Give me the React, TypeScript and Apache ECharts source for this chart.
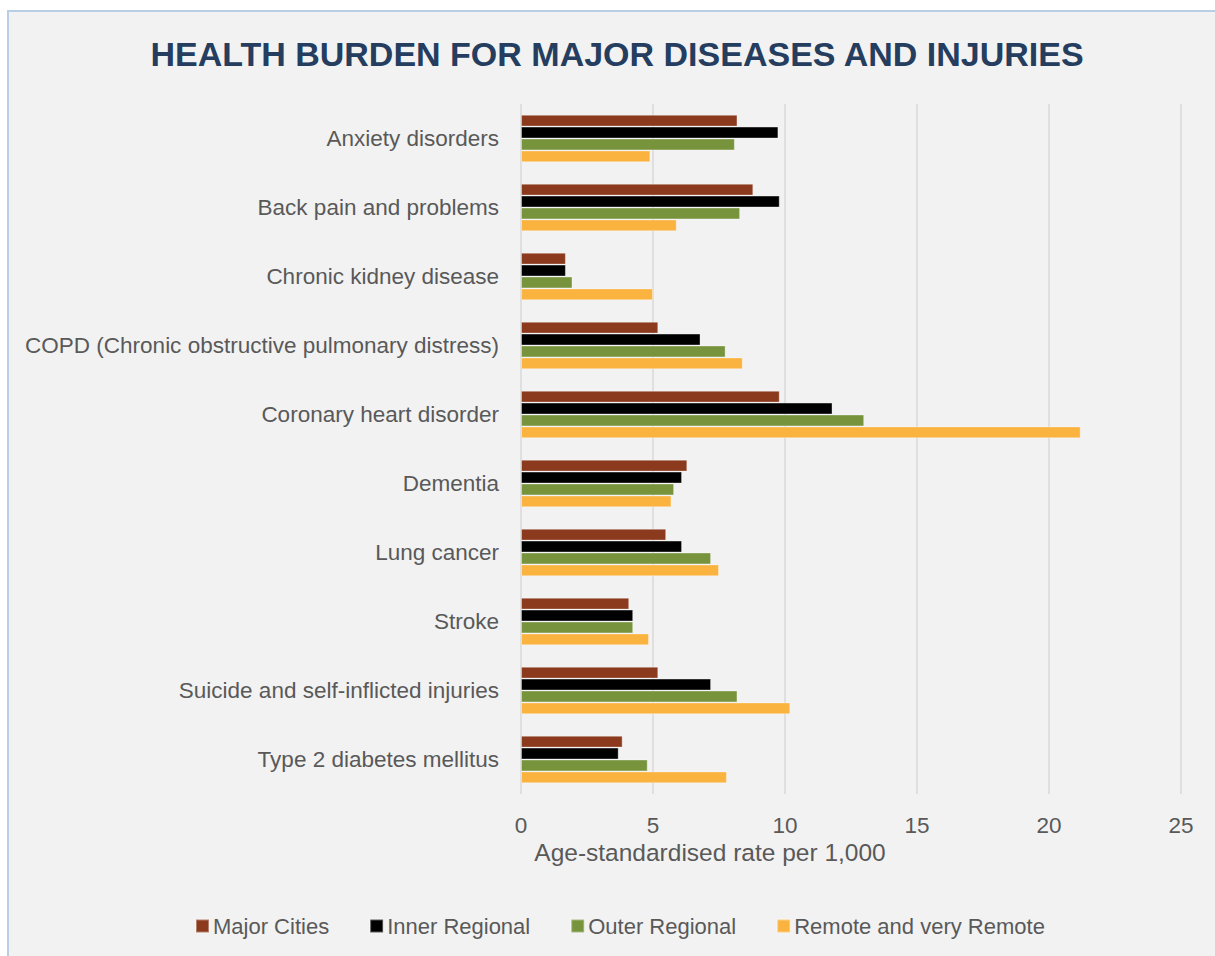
import React, { useEffect, useRef } from "react";
import * as echarts from "echarts";

const categories = [
  "Anxiety disorders",
  "Back pain and problems",
  "Chronic kidney disease",
  "COPD (Chronic obstructive pulmonary distress)",
  "Coronary heart disorder",
  "Dementia",
  "Lung cancer",
  "Stroke",
  "Suicide and self-inflicted injuries",
  "Type 2 diabetes mellitus",
];

const majorCities = [8.2, 8.8, 1.7, 5.2, 9.8, 6.3, 5.5, 4.1, 5.2, 3.85];
const innerRegional = [9.75, 9.8, 1.7, 6.8, 11.8, 6.1, 6.1, 4.25, 7.2, 3.7];
const outerRegional = [8.1, 8.3, 1.95, 7.75, 13.0, 5.8, 7.2, 4.25, 8.2, 4.8];
const remote = [4.9, 5.9, 5.0, 8.4, 21.2, 5.7, 7.5, 4.85, 10.2, 7.8];

const seriesNames = ["Major Cities", "Inner Regional", "Outer Regional", "Remote and very Remote"];
const seriesColors = ["#8b3a1e", "#000000", "#77933c", "#fbb340"];
const seriesData = [majorCities, innerRegional, outerRegional, remote];

export default function App() {
  const ref = useRef<HTMLDivElement>(null);
  useEffect(() => {
    if (!ref.current) return;
    const chart = echarts.init(ref.current, null, { renderer: "svg" });
    const font = "'Liberation Sans', Arial, sans-serif";
    chart.setOption({
      animation: false,
      backgroundColor: "#ffffff",
      textStyle: { fontFamily: font },
      graphic: [
        {
          type: "rect",
          z: -100,
          shape: { x: 8, y: 11, width: 1220, height: 960 },
          style: { fill: "#f2f2f2", stroke: "#b9cde5", lineWidth: 2 },
        },
        {
          type: "text",
          x: 710,
          y: 852,
          style: {
            text: "Age-standardised rate per 1,000",
            fontSize: 24.5,
            fill: "#595959",
            fontFamily: font,
            align: "center",
            verticalAlign: "middle",
          },
        },
      ],
      title: {
        text: "HEALTH BURDEN FOR MAJOR DISEASES AND INJURIES",
        left: 612,
        textAlign: "center",
        top: 32,
        textStyle: { fontSize: 34, fontWeight: "bold", color: "#253d5e", fontFamily: font },
      },
      legend: {
        bottom: 14,
        left: 190,
        itemWidth: 13,
        itemHeight: 13,
        itemGap: 40,
        icon: "rect",
        textStyle: { fontSize: 22, color: "#595959", fontFamily: font, padding: [0, 0, 0, -1] },
        data: seriesNames,
      },
      grid: { left: 521, right: 34, top: 104, height: 690, containLabel: false },
      xAxis: {
        type: "value",
        min: 0,
        max: 25,
        interval: 5,
        axisLine: { show: false },
        axisTick: { show: false },
        axisLabel: { fontSize: 22.5, color: "#595959", margin: 20, fontFamily: font },
        splitLine: { show: true, lineStyle: { color: "#d9d9d9", width: 1.5 } },
      },
      yAxis: {
        type: "category",
        inverse: true,
        data: categories,
        axisLine: { show: false },
        axisTick: { show: false },
        axisLabel: { fontSize: 22.5, color: "#595959", margin: 22, fontFamily: font },
      },
      series: seriesNames.map((name, i) => ({
        name,
        type: "bar",
        data: seriesData[i],
        barGap: "0%",
        barCategoryGap: "31%",
        itemStyle: {
          color: seriesColors[i],
          borderColor: "rgba(255,255,255,0.35)",
          borderWidth: 1,
        },
      })),
    });
    return () => chart.dispose();
  }, []);
  return (
    <div
      ref={ref}
      style={{ position: "absolute", left: 0, top: 0, width: 1215, height: 956 }}
    />
  );
}
